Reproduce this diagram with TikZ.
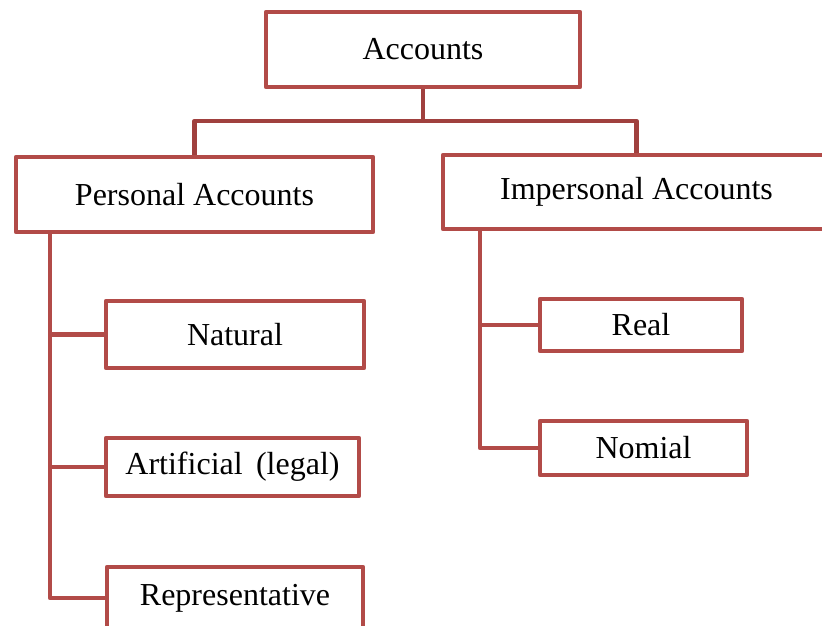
\documentclass[tikz,border=0pt]{standalone}
\usepackage{fontspec}
\setmainfont{Liberation Serif}
\definecolor{bord}{RGB}{178,75,72}
\definecolor{bordd}{RGB}{160,64,62}
\begin{document}
\begin{tikzpicture}[x=1pt,y=-1pt,
  box/.style={draw=bord, line width=4.6pt, line join=round, fill=white, inner sep=0pt,
    font=\fontsize{32}{36}\selectfont},
  conn/.style={draw=bord, line width=4.6pt, line join=round},
  connd/.style={draw=bordd, line width=4.6pt, line join=round}]
\useasboundingbox (0,0) rectangle (822,626);
\clip (0,0) rectangle (822,626);
\fill[white] (0,0) rectangle (822,626);
% boxes
\node[box, minimum width=314pt, minimum height=75pt] (acc) at (423,49.5) {Accounts};
\node[box, minimum width=357pt, minimum height=75pt] (pers) at (194.5,194.5) {Personal Accounts};
\node[box, minimum width=387pt, minimum height=74pt] (imp) at (636.5,192) {Impersonal Accounts};
\node[box, minimum width=258pt, minimum height=67pt] (nat) at (235,334.5) {Natural};
\node[box, minimum width=253pt, minimum height=58pt] (art) at (232.5,467) {Artificial\ \,(legal)};
\node[box, minimum width=256pt, minimum height=62pt] (rep) at (235,598) {Representative};
\node[box, minimum width=202pt, minimum height=52pt] (real) at (641,325) {Real};
\node[box, minimum width=207pt, minimum height=54pt] (nom) at (643.5,448) {Nomial};
% top connectors
\coordinate (bar) at (424,121);
\draw[connd] (acc.south) -- (acc.south |- bar);
\draw[connd] (pers.north) -- (pers.north |- bar) -- (imp.north |- bar) -- (imp.north);
% personal branch
\coordinate (pv) at (50,232);
\draw[conn] (pv) |- (rep.west);
\draw[conn] (pv |- nat.west) -- (nat.west);
\draw[conn] (pv |- art.west) -- (art.west);
% impersonal branch
\coordinate (iv) at (480,229);
\draw[conn] (iv) |- (nom.west);
\draw[conn] (iv |- real.west) -- (real.west);
\end{tikzpicture}
\end{document}
